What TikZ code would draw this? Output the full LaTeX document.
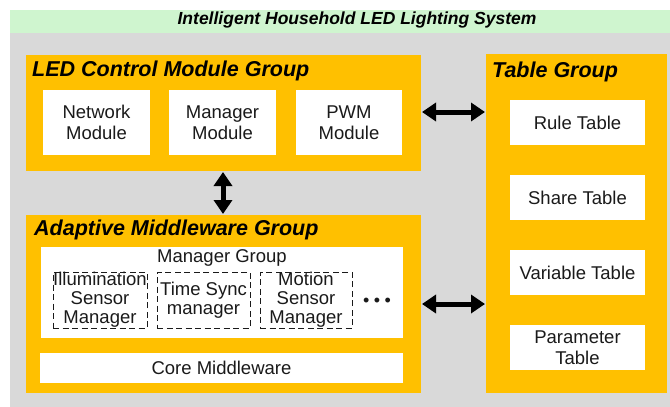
\documentclass[tikz,border=0pt]{standalone}
\usepackage{fontspec}
\setmainfont{Liberation Sans}
\usetikzlibrary{arrows.meta}
\definecolor{gold}{HTML}{FFC000}
\definecolor{bggray}{HTML}{D9D9D9}
\definecolor{bandgreen}{HTML}{CFF5CF}
\definecolor{ink}{HTML}{1A1A1A}
\tikzset{
  groupbox/.style={fill=gold, inner sep=0pt, outer sep=0pt},
  whitebox/.style={fill=white, inner sep=0pt, outer sep=0pt, align=center, text=ink,
    font=\fontsize{18.5}{20.5}\selectfont},
  dashbox/.style={draw=ink, line width=1pt, dash pattern=on 6pt off 3.5pt, inner sep=0pt,
    align=center, text=ink, font=\fontsize{18.5}{19}\selectfont},
  grouptitle/.style={anchor=west, inner sep=0pt, text=black,
    font=\fontsize{21.5}{24}\selectfont\bfseries\itshape},
  bigarrow/.style={line width=5pt, {Triangle[length=14pt,width=18pt]}-{Triangle[length=14pt,width=18pt]}, black, shorten <=1pt, shorten >=1pt}
}
\begin{document}
\begin{tikzpicture}[x=1pt,y=-1pt]
\useasboundingbox (0,0) rectangle (670,407);
\fill[white] (0,0) rectangle (670,407);
\fill[bggray] (10,33) rectangle (670,407);
\fill[bandgreen] (10,10) rectangle (670,33);
\node[inner sep=0pt, text=black, font=\fontsize{17.5}{20}\selectfont\bfseries\itshape] (title) at (357,20) {Intelligent Household LED Lighting System};

% LED Control Module Group
\node[groupbox, minimum width=395pt, minimum height=116pt] (led) at (223.5,113) {};
\node[grouptitle] (ledt) at (32,70.5) {LED Control Module Group};
\node[whitebox, minimum width=107pt, minimum height=65pt] (net) at (96.5,122.5) {Network\\Module};
\node[whitebox, minimum width=107pt, minimum height=65pt] (mgr) at (222.5,122.5) {Manager\\Module};
\node[whitebox, minimum width=106pt, minimum height=65pt] (pwm) at (349,122.5) {PWM\\Module};

% Adaptive Middleware Group
\node[groupbox, minimum width=395pt, minimum height=178pt] (ad) at (223.5,304) {};
\node[grouptitle] (adt) at (34,229.5) {Adaptive Middleware Group};
\node[whitebox, minimum width=362pt, minimum height=91pt] (mg) at (222,292.5) {};
\node[inner sep=0pt, text=ink, font=\fontsize{18.5}{20}\selectfont] (mgt) at (222,258) {Manager Group};
\node[dashbox, minimum width=94pt, minimum height=56pt] (ill) at (100,300) {Illumination\\Sensor\\Manager};
\node[dashbox, minimum width=93pt, minimum height=56pt] (ts) at (203.5,300) {Time Sync\\manager};
\node[dashbox, minimum width=92pt, minimum height=56pt] (mot) at (306,300) {Motion\\Sensor\\Manager};
\node[inner sep=0pt, text=ink, font=\fontsize{18}{18}\selectfont] (dots) at (377,302) {•\hspace{4.5pt}•\hspace{4.5pt}•};
\node[whitebox, minimum width=363pt, minimum height=30pt] (core) at (221.5,368) {Core Middleware};

% Table Group
\node[groupbox, minimum width=181pt, minimum height=339pt] (tg) at (576.5,223.5) {};
\node[grouptitle] (tgt) at (492,71.5) {Table Group};
\node[whitebox, minimum width=135pt, minimum height=45pt] (rule) at (577.5,122.5) {Rule Table};
\node[whitebox, minimum width=135pt, minimum height=45pt] (share) at (577.5,197.5) {Share Table};
\node[whitebox, minimum width=135pt, minimum height=45pt] (var) at (577.5,272.5) {Variable Table};
\node[whitebox, minimum width=135pt, minimum height=45pt] (par) at (577.5,347.5) {Parameter\\Table};

% Arrows
\coordinate (ya) at (0,112);
\coordinate (yb) at (0,304);
\coordinate (xv) at (223,0);
\draw[bigarrow] (led.east |- ya) -- (tg.west |- ya);
\draw[bigarrow] (ad.east |- yb) -- (tg.west |- yb);
\draw[bigarrow] (led.south -| xv) -- (ad.north -| xv);
\end{tikzpicture}
\end{document}
